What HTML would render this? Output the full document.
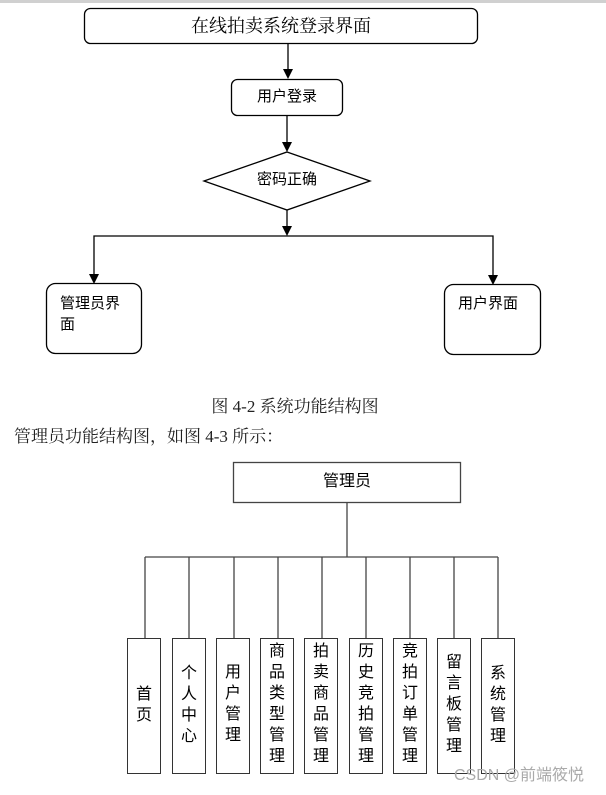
<!DOCTYPE html>
<html><head><meta charset="utf-8"><style>
body{margin:0;width:606px;height:795px;background:#fff;position:relative;overflow:hidden;font-family:"Liberation Sans","Noto Sans CJK SC",sans-serif;}
.a{position:absolute;box-sizing:border-box;}
.vt{position:absolute;box-sizing:border-box;border:1.5px solid #333;width:34px;top:638px;height:136px;font-size:16px;line-height:21px;text-align:center;color:#000;}
</style></head><body>
<div class="a" style="left:0;top:0;width:606px;height:3px;background:#d0d0d0"></div>
<svg class="a" style="left:0;top:0" width="606" height="795">
<g stroke="#000" stroke-width="1.3" fill="none">
<rect x="84.5" y="8.5" width="393" height="35" rx="6" fill="#fff"/>
<rect x="231.5" y="79.5" width="111" height="36" rx="6" fill="#fff"/>
<polygon points="287,152 370,181 287,210 204,181" fill="#fff"/>
<rect x="46.5" y="283.5" width="95" height="70" rx="9" fill="#fff"/>
<rect x="444.5" y="284.5" width="96" height="70" rx="9" fill="#fff"/>
<line x1="288" y1="44" x2="288" y2="70"/>
<line x1="287" y1="116" x2="287" y2="143"/>
<line x1="287" y1="210" x2="287" y2="228"/>
<polyline points="94,275 94,236 493,236 493,276"/>
</g>
<g fill="#000">
<polygon points="283,69 293,69 288,79"/>
<polygon points="282,142 292,142 287,152"/>
<polygon points="282,226 292,226 287,236"/>
<polygon points="89,274 99,274 94,284"/>
<polygon points="488,275 498,275 493,285"/>
</g>
<g stroke="#444" stroke-width="1.3" fill="none">
<rect x="233.5" y="462.5" width="227" height="40" fill="#fff"/>
<line x1="347" y1="503" x2="347" y2="557"/>
<line x1="145" y1="557" x2="498" y2="557"/>
<line x1="145" y1="557" x2="145" y2="638"/>
<line x1="189" y1="557" x2="189" y2="638"/>
<line x1="234" y1="557" x2="234" y2="638"/>
<line x1="278" y1="557" x2="278" y2="638"/>
<line x1="322" y1="557" x2="322" y2="638"/>
<line x1="366" y1="557" x2="366" y2="638"/>
<line x1="410" y1="557" x2="410" y2="638"/>
<line x1="454" y1="557" x2="454" y2="638"/>
<line x1="498" y1="557" x2="498" y2="638"/>
</g>
</svg>
<div class="a" style="left:84px;top:15px;width:394px;text-align:center;font-family:'Liberation Serif','Noto Serif CJK SC',serif;font-size:18px;line-height:22px">在线拍卖系统登录界面</div>
<div class="a" style="left:231px;top:88px;width:112px;text-align:center;font-size:15px;line-height:18px">用户登录</div>
<div class="a" style="left:204px;top:171px;width:166px;text-align:center;font-size:15px;line-height:18px">密码正确</div>
<div class="a" style="left:60px;top:293px;width:75px;font-size:15px;line-height:21px">管理员界<br>面</div>
<div class="a" style="left:458px;top:293px;width:75px;font-size:15px;line-height:21px">用户界面</div>
<div class="a" style="left:0;top:396px;width:590px;text-align:center;font-family:'Liberation Serif','Noto Serif CJK SC',serif;font-size:17px;line-height:21px;color:#222">图 4-2 系统功能结构图</div>
<div class="a" style="left:14px;top:426px;font-family:'Liberation Serif','Noto Serif CJK SC',serif;font-size:17px;line-height:21px;color:#222">管理员功能结构图，如图 4-3 所示：</div>
<div class="a" style="left:233px;top:472px;width:228px;text-align:center;font-size:16px;line-height:20px">管理员</div>
<div class="vt" style="left:127px;padding-top:45px">首<br>页</div>
<div class="vt" style="left:172px;padding-top:24px">个<br>人<br>中<br>心</div>
<div class="vt" style="left:216px;padding-top:23px">用<br>户<br>管<br>理</div>
<div class="vt" style="left:260px;padding-top:2px">商<br>品<br>类<br>型<br>管<br>理</div>
<div class="vt" style="left:304px;padding-top:2px">拍<br>卖<br>商<br>品<br>管<br>理</div>
<div class="vt" style="left:349px;padding-top:2px">历<br>史<br>竞<br>拍<br>管<br>理</div>
<div class="vt" style="left:393px;padding-top:2px">竞<br>拍<br>订<br>单<br>管<br>理</div>
<div class="vt" style="left:437px;padding-top:13px">留<br>言<br>板<br>管<br>理</div>
<div class="vt" style="left:481px;padding-top:24px">系<br>统<br>管<br>理</div>
<div class="a" style="left:454px;top:766px;font-size:16px;line-height:20px;color:#aaa">CSDN @前端筱悦</div>
</body></html>
